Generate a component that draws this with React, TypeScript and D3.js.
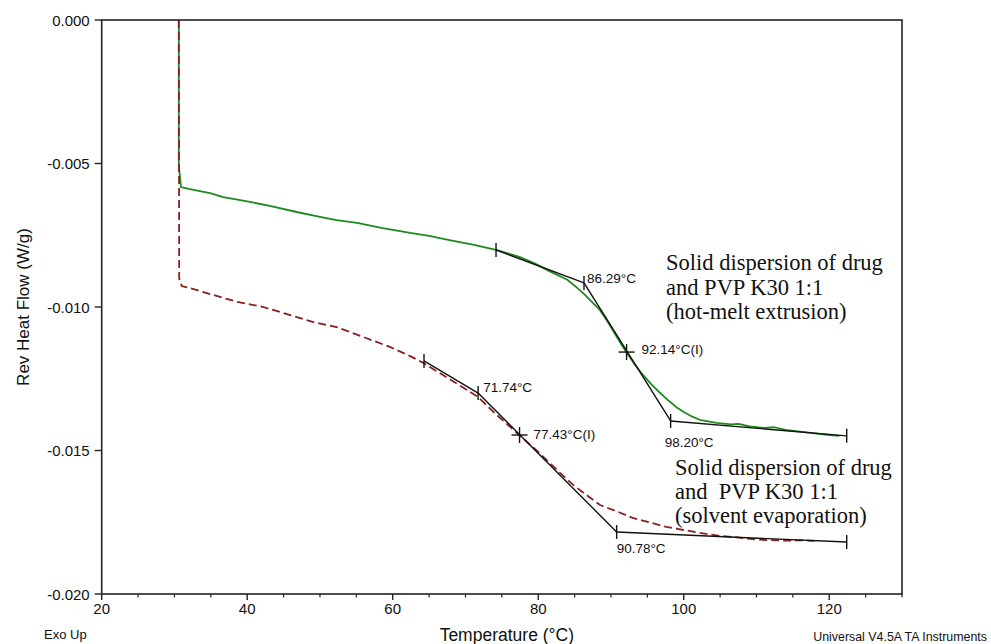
import React from 'react';
import * as d3 from 'd3';

// Reversing heat flow traces (W/g) against temperature (°C)
const hmeTemp = [30.6, 30.6, 30.75, 30.9, 32.1, 34.9, 36.7, 40.4, 43.1, 46.8, 50.0, 52.3, 55.1, 58.6, 62.4, 65.0, 67.8, 71.0, 74.2, 77.5, 79.5, 81.6, 84.0, 85.2, 86.4, 87.4, 88.4, 89.4, 90.3, 91.2, 92.1, 93.2, 94.3, 95.5, 96.7, 97.9, 99.0, 100.0, 101.0, 102.2, 104.5, 106.5, 107.5, 108.3, 109.1, 111.0, 112.5, 113.2, 114.0, 116.0, 118.0, 120.0, 121.4];
const hmeFlow = [0, -0.0051, -0.00545, -0.00582, -0.00589, -0.00603, -0.00617, -0.00634, -0.00648, -0.00669, -0.00686, -0.00697, -0.00707, -0.00725, -0.00742, -0.00752, -0.00767, -0.00783, -0.00801, -0.00826, -0.00848, -0.00876, -0.00905, -0.0093, -0.00957, -0.00983, -0.01008, -0.01045, -0.01083, -0.01121, -0.01157, -0.01198, -0.01234, -0.01268, -0.01298, -0.01326, -0.01349, -0.01366, -0.0138, -0.01393, -0.01404, -0.01409, -0.01407, -0.01412, -0.01416, -0.01421, -0.01419, -0.01424, -0.01428, -0.01434, -0.0144, -0.01446, -0.01449];

const sevTemp = [30.6, 30.65, 31.0, 32.1, 34.9, 38.6, 42.2, 45.9, 49.0, 52.3, 55.9, 59.6, 62.4, 64.0, 66.0, 68.0, 70.0, 71.7, 74.0, 77.4, 80.0, 83.0, 85.0, 87.0, 88.5, 91.0, 93.0, 95.5, 97.6, 100.0, 102.2, 104.5, 106.7, 109.0, 111.4, 114.0, 116.0, 118.0];
const sevFlow = [0, -0.009, -0.00927, -0.00934, -0.00955, -0.00982, -0.01, -0.01028, -0.01052, -0.0107, -0.01104, -0.01139, -0.01171, -0.01192, -0.01223, -0.01254, -0.01286, -0.01313, -0.01369, -0.01446, -0.01505, -0.01578, -0.01624, -0.01662, -0.0169, -0.01714, -0.01735, -0.01752, -0.01766, -0.01777, -0.01787, -0.01796, -0.01801, -0.01808, -0.01812, -0.01814, -0.01813, -0.01815];

// Glass transition analysis: onset, end and inflection (I) points
const hmeTgTemp = [74.2, 86.29, 92.14, 98.2, 122.4];
const hmeTgFlow = [-0.00801, -0.00916, -0.01157, -0.01397, -0.01449];
const sevTgTemp = [64.3, 71.74, 77.43, 90.78, 122.4];
const sevTgFlow = [-0.01188, -0.013, -0.01446, -0.01784, -0.01819];

const xTicks = [20, 40, 60, 80, 100, 120];
const xMinorTicks = [25, 30, 35, 45, 50, 55, 65, 70, 75, 85, 90, 95, 105, 110, 115, 125, 130];
const yTicks = [0, -0.005, -0.01, -0.015, -0.02];

const hmeCaption = ['Solid dispersion of drug', 'and PVP K30 1:1', '(hot-melt extrusion)'];
const sevCaption = ['Solid dispersion of drug', 'and  PVP K30 1:1', '(solvent evaporation)'];

const W = 991;
const H = 644;
const L = 101.7, R = 902, T = 20, B = 594;
const SANS = 'Arial, "Liberation Sans", Helvetica, sans-serif';
const SERIF = '"Times New Roman", "Liberation Serif", serif';
const GREEN = '#1e8a1e';
const DARKRED = '#8c1f1f';
const AXIS = '#222';

const x = d3.scaleLinear().domain([20, 130]).range([L, R]);
const y = d3.scaleLinear().domain([-0.02, 0]).range([B, T]);

const line = d3.line<[number, number]>().x(d => x(d[0])).y(d => y(d[1]));
const zip = (a: number[], b: number[]) => a.map((v, i) => [v, b[i]] as [number, number]);

const fmtY = (v: number) => (v === 0 ? '0.000' : d3.format('.3f')(v).replace('−', '-'));
const fmtT = (t: number) => `${t.toFixed(2)}°C`;

type Offset = [number, number];

function TgAnalysis({ temps, flows, offsets }: { temps: number[]; flows: number[]; offsets: (Offset | null)[] }) {
  const pts = zip(temps, flows);
  // onset tangent, transition tangent (through inflection), end baseline
  const segs: [number, number][][] = [
    [pts[0], pts[1]],
    [pts[1], pts[3]],
    [pts[3], pts[4]],
  ];
  return (
    <g>
      {segs.map((s, i) => (
        <path key={i} d={line(s) || ''} fill="none" stroke="#111" strokeWidth={1.4} />
      ))}
      {pts.map((p, i) => {
        const px = x(p[0]);
        const py = y(p[1]);
        if (i === 2) {
          return (
            <g key={i} stroke="#111" strokeWidth={1.4}>
              <line x1={px - 8} x2={px + 8} y1={py} y2={py} />
              <line x1={px} x2={px} y1={py - 8} y2={py + 8} />
            </g>
          );
        }
        return <line key={i} x1={px} x2={px} y1={py - 7} y2={py + 7} stroke="#111" strokeWidth={1.4} />;
      })}
      {pts.map((p, i) => {
        const off = offsets[i];
        if (!off) return null;
        return (
          <text key={'t' + i} x={x(p[0]) + off[0]} y={y(p[1]) + off[1]} fontFamily={SANS} fontSize={13.5} fill="#111">
            {fmtT(p[0]) + (i === 2 ? '(I)' : '')}
          </text>
        );
      })}
    </g>
  );
}

export default function App() {
  return (
    <svg width={W} height={H} style={{ position: 'absolute', left: 0, top: 0, background: '#fff' }}>
      <rect x={0} y={0} width={W} height={H} fill="#fff" />

      {/* traces */}
      <path d={line(zip(hmeTemp, hmeFlow)) || ''} fill="none" stroke={GREEN} strokeWidth={1.8} strokeLinejoin="round" />
      <path d={line(zip(sevTemp, sevFlow)) || ''} fill="none" stroke={DARKRED} strokeWidth={1.8} strokeDasharray="8,4" />

      <TgAnalysis temps={hmeTgTemp} flows={hmeTgFlow} offsets={[null, [3, 0], [15, 2], [-6, 26], null]} />
      <TgAnalysis temps={sevTgTemp} flows={sevTgFlow} offsets={[null, [5, -1], [14, 4], [0, 21], null]} />

      {/* frame */}
      <rect x={L} y={T} width={R - L} height={B - T} fill="none" stroke={AXIS} strokeWidth={1.6} />

      {/* y axis */}
      {yTicks.map(v => (
        <g key={v}>
          <line x1={L - 7} x2={L} y1={y(v)} y2={y(v)} stroke={AXIS} strokeWidth={1.4} />
          <text x={L - 12} y={y(v) + 5.5} textAnchor="end" fontFamily={SANS} fontSize={15} fill="#111">
            {fmtY(v)}
          </text>
        </g>
      ))}

      {/* x axis */}
      {xTicks.map(v => (
        <g key={v}>
          <line x1={x(v)} x2={x(v)} y1={B} y2={B + 6} stroke={AXIS} strokeWidth={1.4} />
          <text x={x(v)} y={B + 20} textAnchor="middle" fontFamily={SANS} fontSize={15} fill="#111">
            {v}
          </text>
        </g>
      ))}
      {xMinorTicks.map(v => (
        <line key={v} x1={x(v)} x2={x(v)} y1={B} y2={B + 3.5} stroke={AXIS} strokeWidth={1.2} />
      ))}

      {/* axis titles */}
      <text x={(L + R) / 2 + 5} y={641} textAnchor="middle" fontFamily={SANS} fontSize={17.5} fill="#111">
        Temperature (°C)
      </text>
      <text
        transform={`translate(29, ${(T + B) / 2}) rotate(-90)`}
        textAnchor="middle"
        fontFamily={SANS}
        fontSize={17}
        fill="#111"
      >
        Rev Heat Flow (W/g)
      </text>
      <text x={44} y={639} fontFamily={SANS} fontSize={13} fill="#111">
        Exo Up
      </text>
      <text x={987} y={641} textAnchor="end" fontFamily={SANS} fontSize={12.4} fill="#111">
        Universal V4.5A TA Instruments
      </text>

      {/* sample captions */}
      {hmeCaption.map((s, i) => (
        <text key={'h' + i} x={666} y={270 + i * 24.5} fontFamily={SERIF} fontSize={22.5} fill="#111" style={{ whiteSpace: 'pre' }}>
          {s}
        </text>
      ))}
      {sevCaption.map((s, i) => (
        <text key={'s' + i} x={675} y={475 + i * 24} fontFamily={SERIF} fontSize={22.5} fill="#111" style={{ whiteSpace: 'pre' }}>
          {s}
        </text>
      ))}
    </svg>
  );
}
